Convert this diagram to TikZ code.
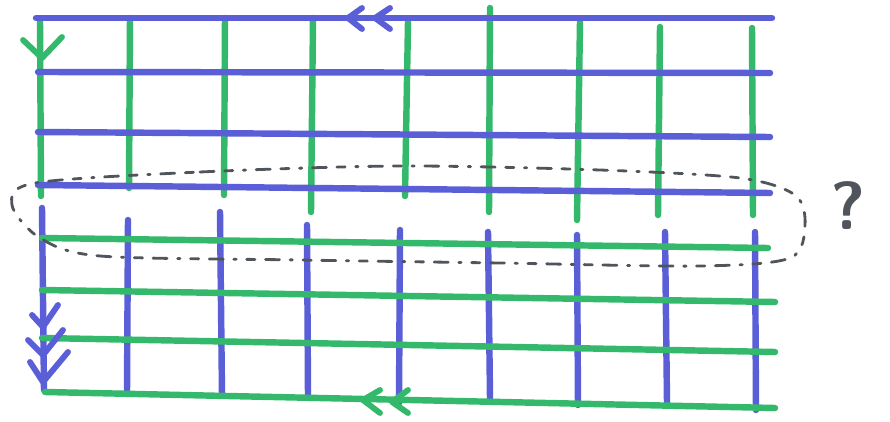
\documentclass[tikz,border=0pt]{standalone}
\usepackage{tikz}
\definecolor{markblue}{HTML}{5A5FD8}
\definecolor{markgreen}{HTML}{34B96C}
\definecolor{pencil}{HTML}{50555C}

\begin{document}
\begin{tikzpicture}[
  x=0.03cm, y=-0.03cm,
  bluestroke/.style={draw=markblue, line width=5.5pt, line cap=round},
  greenstroke/.style={draw=markgreen, line width=5.5pt, line cap=round},
  chevron/.style={line width=5pt, line cap=round, line join=round},
  loopline/.style={draw=pencil, line width=2.4pt, line cap=round,
    dash pattern=on 12pt off 9pt on 7pt off 9pt on 2pt off 9pt}
]
  \useasboundingbox (0,0) rectangle (890,422);

  % top sheet: green verticals, blue horizontals
  \foreach \xa/\ya/\xb/\yb in {40/20/41/196, 130/18/129/188, 225/18/224/195,
      313/18/311/212, 408/22/405/196, 490/8/489/212, 580/22/577/220,
      660/27/658/215, 752/28/753/215}
    \draw[greenstroke] (\xa,\ya) -- (\xb,\yb);
  \foreach \xa/\ya/\xb/\yb in {36/18/772/18, 38/72/770/73,
      38/132/770/137, 38/185/770/193}
    \draw[bluestroke] (\xa,\ya) -- (\xb,\yb);

  % bottom sheet: blue verticals, green horizontals
  \foreach \xa/\ya/\xb/\yb in {42/208/44/390, 128/220/127/392, 220/212/222/395,
      307/225/308/395, 400/230/399/403, 488/232/490/398, 577/235/578/405,
      665/232/667/402, 755/232/756/410}
    \draw[bluestroke] (\xa,\ya) -- (\xb,\yb);
  \foreach \xa/\ya/\xb/\yb in {42/238/768/248, 42/290/775/302,
      42/338/775/352, 45/392/775/408}
    \draw[greenstroke] (\xa,\ya) -- (\xb,\yb);

  % arrows
  \draw[chevron, markblue] (362,8) -- (348,18) -- (362,29);
  \draw[chevron, markblue] (390,8) -- (375,18) -- (390,29);
  \draw[chevron, markgreen] (23,40) -- (42,58) -- (62,37);
  \draw[chevron, markblue] (32,315) -- (43,327) -- (58,305);
  \draw[chevron, markblue] (28,340) -- (43,355) -- (63,330);
  \draw[chevron, markblue] (30,362) -- (43,382) -- (68,352);
  \draw[chevron, markgreen] (380,390) -- (363,400) -- (380,413);
  \draw[chevron, markgreen] (408,390) -- (392,402) -- (408,413);

  % dashed loop round the seam
  \draw[loopline] plot[smooth cycle] coordinates {(35,183) (200,172) (400,166)
    (600,170) (740,178) (795,195) (805,225) (790,258) (700,266) (500,263)
    (300,260) (100,256) (40,238) (12,205)};

  \node[text=pencil, font=\fontsize{58}{58}\selectfont\sffamily\bfseries] (qmark) at (848,206) {?};
\end{tikzpicture}
\end{document}
